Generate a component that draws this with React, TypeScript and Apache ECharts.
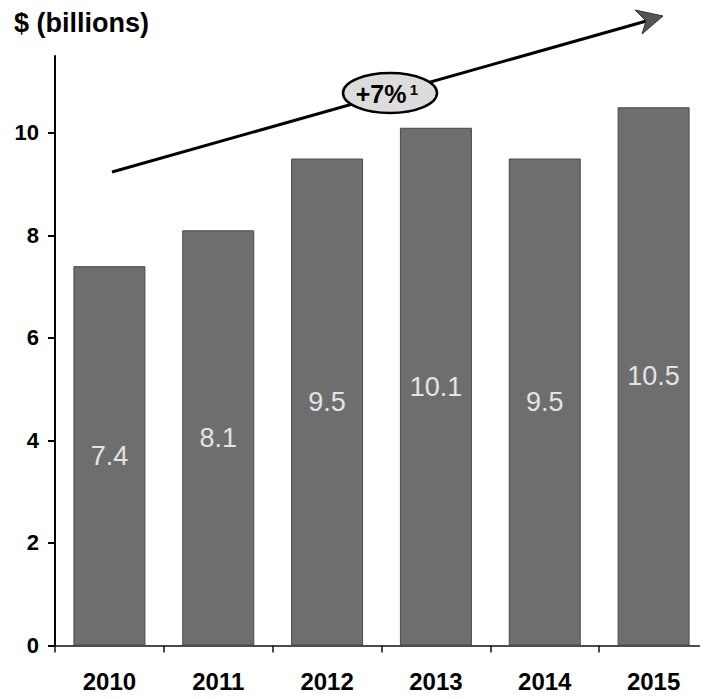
import React, { useEffect, useRef } from "react";
import * as echarts from "echarts";

// Annual revenue, $ billions
const years = ["2010", "2011", "2012", "2013", "2014", "2015"];
const revenue = [7.4, 8.1, 9.5, 10.1, 9.5, 10.5];
const yTickValues = [0, 2, 4, 6, 8, 10];
const growthLabel = "+7%";
const growthNote = "1";

const FONT = "'Liberation Sans', Arial, Helvetica, sans-serif";

export default function App() {
  const ref = useRef<HTMLDivElement>(null);

  useEffect(() => {
    if (!ref.current) return;
    const chart = echarts.init(ref.current, null, { renderer: "svg" });

    chart.setOption({
      animation: false,
      backgroundColor: "#ffffff",
      title: {
        text: "$ (billions)",
        left: 9,
        top: 4,
        textStyle: { fontFamily: FONT, fontSize: 27, fontWeight: "bold", color: "#000" },
      },
      grid: { left: 55, top: 56, width: 660, height: 589.5, containLabel: false },
      xAxis: {
        type: "category",
        data: years,
        axisLine: { lineStyle: { color: "#111", width: 1.5 } },
        axisTick: { show: true, length: 7, lineStyle: { color: "#111", width: 1.5 } },
        axisLabel: {
          margin: 24,
          fontFamily: FONT,
          fontSize: 24,
          fontWeight: "bold",
          color: "#000",
        },
      },
      yAxis: {
        type: "value",
        min: 0,
        max: 11.5,
        interval: 2,
        splitLine: { show: false },
        axisLine: { show: true, lineStyle: { color: "#000", width: 2 } },
        axisTick: {
          show: true,
          length: 7,
          customValues: yTickValues,
          lineStyle: { color: "#000", width: 2 },
        },
        axisLabel: {
          customValues: yTickValues,
          margin: 16,
          fontFamily: FONT,
          fontSize: 22,
          fontWeight: "bold",
          color: "#000",
        },
      },
      series: [
        {
          type: "bar",
          data: revenue,
          barWidth: 72,
          itemStyle: { color: "#6e6e6e", borderColor: "#4a4a4a", borderWidth: 1 },
          label: {
            show: true,
            position: "inside",
            fontFamily: FONT,
            fontSize: 27,
            color: "#e4e4e4",
            formatter: (p: any) => Number(p.value).toFixed(1),
          },
        },
      ],
      graphic: [
        // growth trend arrow
        {
          type: "line",
          shape: { x1: 112, y1: 172, x2: 650, y2: 20 },
          style: { stroke: "#000", lineWidth: 3 },
          z: 10,
        },
        {
          type: "polygon",
          shape: { points: [[663, 16], [635, 10], [646, 21], [642, 34]] },
          style: { fill: "#555", stroke: "#333", lineWidth: 1 },
          z: 11,
        },
        {
          type: "ellipse",
          shape: { cx: 390, cy: 93, rx: 47, ry: 20 },
          style: { fill: "#dcdcdc", stroke: "#000", lineWidth: 2.5 },
          z: 12,
        },
        {
          type: "text",
          x: 381,
          y: 94,
          style: {
            text: growthLabel,
            fontFamily: FONT,
            fontSize: 25,
            fontWeight: "bold",
            fill: "#000",
            align: "center",
            verticalAlign: "middle",
          },
          z: 13,
        },
        {
          type: "text",
          x: 414,
          y: 89,
          style: {
            text: growthNote,
            fontFamily: FONT,
            fontSize: 15,
            fontWeight: "bold",
            fill: "#000",
            align: "center",
            verticalAlign: "middle",
          },
          z: 13,
        },
      ],
    });

    return () => chart.dispose();
  }, []);

  return <div ref={ref} style={{ width: 708, height: 699, margin: -8 }} />;
}
